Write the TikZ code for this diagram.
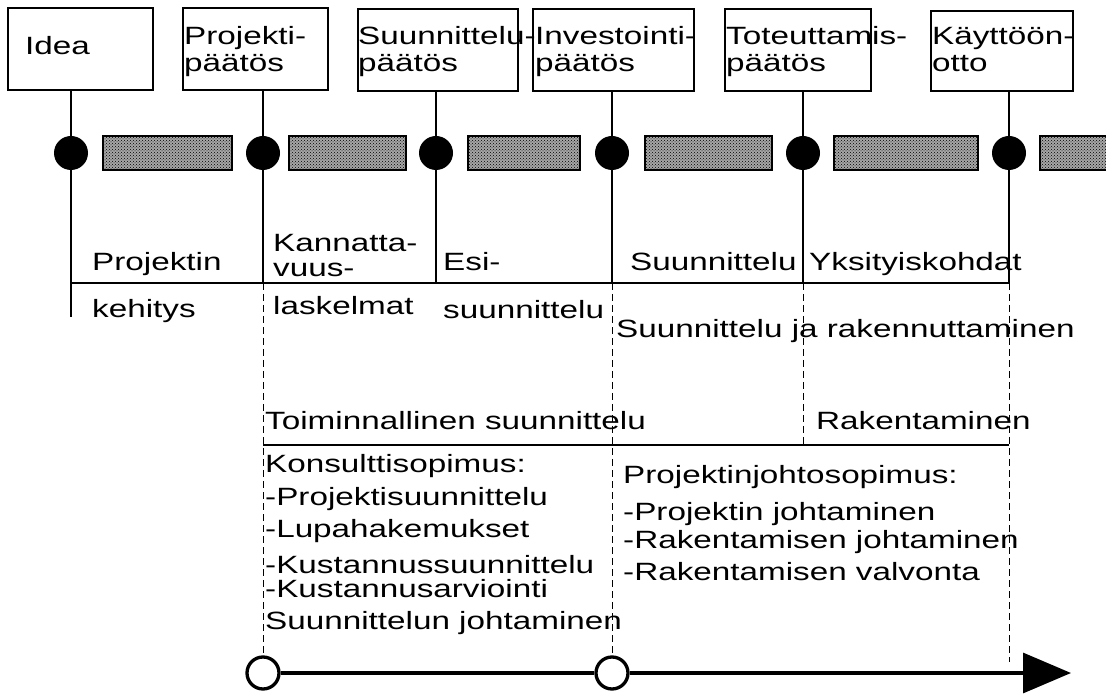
\documentclass[tikz,border=0pt]{standalone}
\usepackage{fontspec}
\setmainfont{Liberation Sans}[FakeStretch=1.33]
\usepackage{tikz}
\usetikzlibrary{arrows.meta}
\usetikzlibrary{patterns}
\usetikzlibrary{positioning}
\tikzset{
  decision node/.style={draw,line width=2.4pt,anchor=north west,minimum height=82pt,inner sep=0pt},
  milestone node/.style={circle,fill=black,minimum size=34pt,inner sep=0pt},
  gate node/.style={circle,draw,line width=3.3pt,fill=white,minimum size=32pt,inner sep=0pt},
  phase text/.style={anchor=base west,inner sep=0pt,align=left,font=\fontsize{25}{27}\selectfont},
  phase bar/.style={draw,line width=1.6pt,preaction={fill=black!35},pattern=crosshatch dots},
  stem/.style={line width=2pt},
  guide/.style={line width=1pt,dash pattern=on 7pt off 4pt}
}

\begin{document}
\begin{tikzpicture}[x=1pt,y=-1pt]
		    \useasboundingbox (0,0) rectangle (1106,700);

		    \node[decision node,minimum width=145pt] (1) at (7,7) {};
		    \node[decision node,minimum width=145pt] (2) at (182,7) {};
		    \node[decision node,minimum width=160pt] (3) at (357,8) {};
		    \node[decision node,minimum width=161pt] (4) at (532,8) {};
		    \node[decision node,minimum width=146pt] (5) at (724,8) {};
		    \node[decision node,minimum width=142pt,minimum height=80pt] (6) at (930,10) {};

		    \node[phase text] (1t) at (25,55) {Idea};
		    \node[phase text] (2t) at (184,72) {Projekti-\\päätös};
		    \node[phase text] (3t) at (358,72) {Suunnittelu-\\päätös};
		    \node[phase text] (4t) at (535,72) {Investointi-\\päätös};
		    \node[phase text] (5t) at (726,72) {Toteuttamis-\\päätös};
		    \node[phase text] (6t) at (932,72) {Käyttöön-\\otto};

		    \foreach \a/\b in {103/232,289/406,468/580,645/772,834/978,1040/1115}
		      \draw[phase bar] (\a,136) rectangle (\b,170);

		    \foreach \x [count=\i] in {71,263,436,612,803,1009}
		      \node[milestone node] (m\i) at (\x,153) {};

		    \coordinate (k1) at (71,317);
		    \coordinate (l1) at (71,283);
		    \coordinate (l6) at (1009,283);
		    \coordinate (r1) at (263,445);
		    \coordinate (r2) at (1009,445);
		    \coordinate (e6) at (1009,662);
		    \coordinate (tip) at (1071,673);

		    \draw[stem] (1.south -| m1) -- (k1);
		    \foreach \i in {2,...,6}
		      \draw[stem] (\i.south -| m\i) -- (m\i |- l1);
		    \draw[line width=2.6pt] (l1) -- (l6);
		    \draw[line width=2.6pt] (r1) -- (r2);

		    \node[gate node] (g1) at (263,673) {};
		    \node[gate node] (g2) at (612,673) {};

		    \draw[guide] (m2 |- l1) -- (g1);
		    \draw[guide] (m4 |- l1) -- (g2);
		    \draw[guide] (m5 |- l1) -- (m5 |- r1);
		    \draw[guide] (l6) -- (e6);

		    \draw[line width=3.3pt] (g1) -- (g2);
		    \draw[line width=3.3pt,-{Triangle[length=48pt,width=40pt]}] (g2) -- (tip);

		    \node[phase text] (p1) at (92,271) {Projektin};
		    \node[phase text] (p1b) at (92,318) {kehitys};
		    \node[phase text] (p2) at (273,252) {Kannatta-};
		    \node[phase text] (p2a) at (273,277) {vuus-};
		    \node[phase text] (p2b) at (273,315) {laskelmat};
		    \node[phase text] (p3) at (443,271) {Esi-};
		    \node[phase text] (p3b) at (443,319) {suunnittelu};
		    \node[phase text] (p4) at (630,271) {Suunnittelu};
		    \node[phase text] (p5) at (809,271) {Yksityiskohdat};
		    \node[phase text] (p6) at (616,338) {Suunnittelu ja rakennuttaminen};
		    \node[phase text] (t1) at (265,430) {Toiminnallinen suunnittelu};
		    \node[phase text] (t2) at (816,430) {Rakentaminen};

		    \foreach \y/\t [count=\i] in {472/Konsulttisopimus:,505/-Projektisuunnittelu,537/-Lupahakemukset,573/-Kustannussuunnittelu,597/-Kustannusarviointi,629/Suunnittelun johtaminen}
		      \node[phase text] (c\i) at (265,\y) {\t};
		    \foreach \y/\t [count=\i] in {483/Projektinjohtosopimus:,520/-Projektin johtaminen,548/-Rakentamisen johtaminen,580/-Rakentamisen valvonta}
		      \node[phase text] (j\i) at (623,\y) {\t};
		  \end{tikzpicture}
\end{document}
